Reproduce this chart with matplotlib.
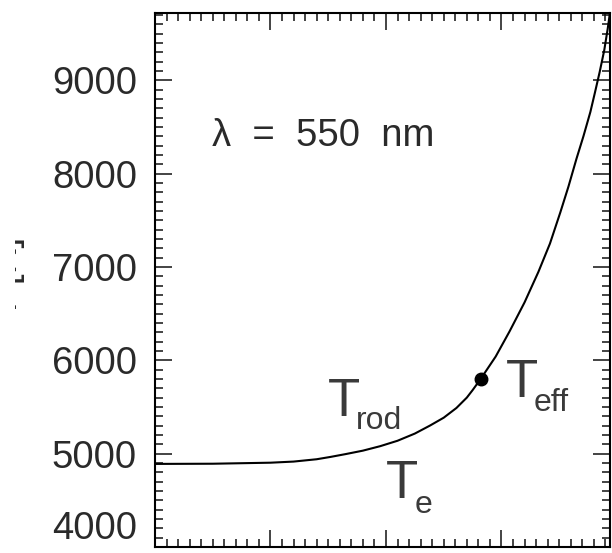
import matplotlib
matplotlib.use("Agg")
from matplotlib import pyplot as plt
from matplotlib.ticker import MultipleLocator
from matplotlib.transforms import Bbox, TransformedBbox

plt.rcParams['font.family'] = ['Liberation Sans', 'DejaVu Sans']

# temperature along the depth scale
depth = [0.0, 0.5, 1.0, 1.2, 1.4, 1.52, 1.65, 1.80, 1.95, 2.10, 2.25,
         2.38, 2.50, 2.61, 2.70, 2.75, 2.82, 2.95, 3.07, 3.20, 3.32,
         3.42, 3.51, 3.58, 3.65, 3.71, 3.77, 3.81, 3.85, 3.89, 3.92, 3.96]
temp = [4890, 4892, 4903, 4915, 4940, 4965, 4995, 5032, 5080, 5138, 5215,
        5300, 5385, 5489, 5600, 5680, 5800, 6040, 6309, 6620, 6947,
        7250, 7585, 7860, 8160, 8400, 8660, 8870, 9085, 9320, 9550, 9900]

# effective temperature point
teff_x = 2.82
teff_y = 5800

y_ticks = [4000, 5000, 6000, 7000, 8000, 9000]

fig = plt.figure(figsize=(6.12, 5.53), dpi=100)
ax = fig.add_axes([155 / 612, 6 / 553, 455 / 612, 534 / 553])

ax.plot(depth, temp, color='black', lw=1.5, solid_joinstyle='round')
ax.plot([teff_x], [teff_y], 'o', color='black', ms=9)

ax.set_xlim(0, 3.94)
ax.set_ylim(4030, 9720)
ax.set_yticks(y_ticks)
ax.set_yticklabels([str(v) for v in y_ticks])
ax.xaxis.set_major_locator(MultipleLocator(1))
ax.xaxis.set_minor_locator(MultipleLocator(0.1))
ax.yaxis.set_minor_locator(MultipleLocator(100))
ax.set_xticklabels([])

ax.tick_params(which='both', direction='in', top=True, right=True,
               width=1.1, color='#111111')
ax.tick_params(which='major', length=12, pad=13, labelsize=27.5,
               labelcolor='#2a2a2a')
ax.tick_params(which='minor', length=5.5)
for s in ax.spines.values():
    s.set_linewidth(1.5)

# bottom label sits just above the frame
ax.yaxis.get_major_ticks()[0].label1.set_verticalalignment('bottom')

# y label mostly outside the page
lbl = ax.set_ylabel('T [K]', fontsize=28, labelpad=0, color='#2a2a2a')
ax.yaxis.set_label_coords(-0.285, 0.505)
lbl.set_clip_box(TransformedBbox(Bbox([[15 / 612, 0], [1, 1]]), fig.transFigure))
lbl.set_clip_on(True)

ax.text(0.49, 8298, 'λ  =  550  nm', fontsize=27.5, color='#2a2a2a')

tcol = '#3a3a3a'
ax.text(1.50, 5404, 'T', fontsize=38, color=tcol)
ax.text(1.74, 5266, 'rod', fontsize=23, color=tcol)
ax.text(3.04, 5606, 'T', fontsize=38, color=tcol)
ax.text(3.28, 5457, 'eff', fontsize=23, color=tcol)
ax.text(2.00, 4521, 'T', fontsize=38, color=tcol)
ax.text(2.25, 4362, 'e', fontsize=23, color=tcol)

fig.savefig('out.png', dpi=100)
